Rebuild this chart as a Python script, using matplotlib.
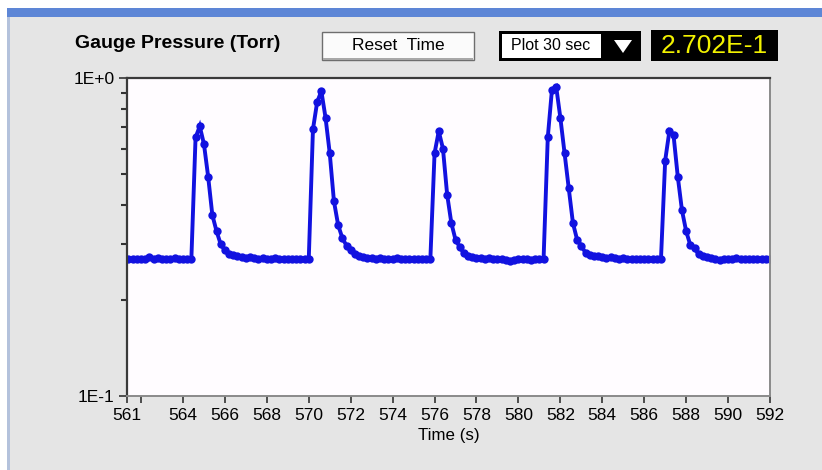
import numpy as np
import matplotlib.pyplot as plt
from matplotlib.patches import Rectangle, Polygon

plt.rcParams['font.family'] = ['Liberation Sans', 'DejaVu Sans']

W, H = 822, 470

# gauge readout, one sample every 0.2 s
time_s = np.round(np.arange(561.2, 592.01, 0.2), 1)
pressure_torr = [
    0.270, 0.270, 0.269, 0.270, 0.270,   # 561.2 - 562.0
    0.270, 0.273, 0.270, 0.272, 0.270,   # 562.2 - 563.0
    0.270, 0.269, 0.271, 0.270, 0.269,   # 563.2 - 564.0
    0.270, 0.270, 0.650, 0.705, 0.620,   # 564.2 - 565.0
    0.490, 0.371, 0.330, 0.300, 0.287,   # 565.2 - 566.0
    0.280, 0.277, 0.275, 0.273, 0.271,   # 566.2 - 567.0
    0.273, 0.272, 0.270, 0.271, 0.270,   # 567.2 - 568.0
    0.270, 0.271, 0.270, 0.269, 0.270,   # 568.2 - 569.0
    0.270, 0.269, 0.270, 0.270, 0.270,   # 569.2 - 570.0
    0.690, 0.840, 0.910, 0.750, 0.580,   # 570.2 - 571.0
    0.410, 0.345, 0.314, 0.297, 0.287,   # 571.2 - 572.0
    0.279, 0.276, 0.274, 0.272, 0.271,   # 572.2 - 573.0
    0.270, 0.272, 0.270, 0.269, 0.270,   # 573.2 - 574.0
    0.271, 0.269, 0.270, 0.270, 0.270,   # 574.2 - 575.0
    0.269, 0.270, 0.270, 0.270, 0.580,   # 575.2 - 576.0
    0.680, 0.600, 0.430, 0.350, 0.310,   # 576.2 - 577.0
    0.294, 0.281, 0.276, 0.274, 0.272,   # 577.2 - 578.0
    0.271, 0.270, 0.272, 0.270, 0.269,   # 578.2 - 579.0
    0.270, 0.268, 0.265, 0.268, 0.270,   # 579.2 - 580.0
    0.269, 0.270, 0.268, 0.270, 0.270,   # 580.2 - 581.0
    0.270, 0.650, 0.920, 0.940, 0.750,   # 581.2 - 582.0
    0.580, 0.450, 0.350, 0.310, 0.297,   # 582.2 - 583.0
    0.282, 0.278, 0.276, 0.275, 0.274,   # 583.2 - 584.0
    0.272, 0.273, 0.271, 0.270, 0.272,   # 584.2 - 585.0
    0.270, 0.269, 0.270, 0.270, 0.269,   # 585.2 - 586.0
    0.270, 0.270, 0.269, 0.270, 0.550,   # 586.2 - 587.0
    0.680, 0.660, 0.490, 0.384, 0.330,   # 587.2 - 588.0
    0.298, 0.291, 0.279, 0.276, 0.274,   # 588.2 - 589.0
    0.271, 0.270, 0.268, 0.270, 0.270,   # 589.2 - 590.0
    0.269, 0.271, 0.270, 0.269, 0.270,   # 590.2 - 591.0
    0.270, 0.270, 0.269, 0.270, 0.270,   # 591.2 - 592.0
]

x_min, x_max = 561.33, 592
x_ticks = [561.33, 562] + list(range(564, 593, 2))
x_tick_labels = ['561', ''] + [str(t) for t in range(564, 593, 2)]
y_ticks = [0.1, 1.0]
y_tick_labels = ['1E-1', '1E+0']
y_minor_ticks = [0.2, 0.3, 0.4, 0.5, 0.6, 0.7, 0.8, 0.9]

title = 'Gauge Pressure (Torr)'
button_text = 'Reset  Time'
menu_text = 'Plot 30 sec'
readout_text = '2.702E-1'


def px_rect(fig, x0, y0, x1, y1, **kw):
    """Rectangle given in screen pixels (origin top left)"""
    r = Rectangle((x0 / W, 1 - y1 / H), (x1 - x0) / W, (y1 - y0) / H,
                  transform=fig.transFigure, zorder=-5, **kw)
    fig.add_artist(r)


def px_text(fig, x, y, s, **kw):
    fig.text(x / W, 1 - y / H, s, **kw)


fig = plt.figure(figsize=(W / 100, H / 100), dpi=100, facecolor='white')

# window panel
px_rect(fig, 7, 8, W, H, facecolor='#e5e5e5', edgecolor='none')
px_rect(fig, 7, 8, W, 17, facecolor='#5d86d6', edgecolor='none')
px_rect(fig, 7, 17, 10, H, facecolor='#b4c2dc', edgecolor='none')

# front panel controls
px_text(fig, 75, 44, title, fontsize=14, fontweight='bold', va='center', ha='left')

px_rect(fig, 322, 32, 474, 60, facecolor='#fbfbfb', edgecolor='#6e6e6e', lw=1)
px_rect(fig, 323, 58, 473, 60, facecolor='#a8a8a8', edgecolor='none')
px_text(fig, 398, 46, button_text, fontsize=12.5, va='center', ha='center')

px_rect(fig, 499, 31, 641, 61, facecolor='black', edgecolor='none')
px_rect(fig, 502, 34, 601, 58, facecolor='white', edgecolor='none')
px_text(fig, 551, 46, menu_text, fontsize=11.5, va='center', ha='center')
tri = Polygon([(614 / W, 1 - 40 / H), (632 / W, 1 - 40 / H), (623 / W, 1 - 53 / H)],
              closed=True, transform=fig.transFigure, facecolor='white', edgecolor='none')
fig.add_artist(tri)

px_rect(fig, 651, 30, 778, 61, facecolor='black', edgecolor='none')
px_text(fig, 714, 46, readout_text, fontsize=19, color='#f2f200', va='center', ha='center')

# chart
ax = fig.add_axes([127 / W, 1 - 396 / H, (770 - 127) / W, (396 - 78) / H])
ax.set_zorder(10)
ax.set_facecolor('#fffcff')
ax.plot(time_s, pressure_torr, color='#1212e0', lw=2.8, marker='o', ms=6,
        markeredgewidth=0, solid_joinstyle='miter')

ax.set_yscale('log')
ax.set_ylim(0.1, 1.0)
ax.set_xlim(x_min, x_max)
ax.set_yticks(y_ticks)
ax.set_yticklabels(y_tick_labels)
ax.set_yticks(y_minor_ticks, minor=True)
ax.set_yticklabels([], minor=True)
ax.set_xticks(x_ticks)
ax.set_xticklabels(x_tick_labels)
ax.tick_params(axis='x', which='both', length=5, width=1.2, pad=4, labelsize=12.5, color='#333333')
ax.tick_params(axis='y', which='major', length=6, width=1.2, pad=3, labelsize=12.5, color='#333333')
ax.tick_params(axis='y', which='minor', length=4, width=1.5, color='#333333')
ax.set_xlabel('Time (s)', fontsize=12.2, labelpad=3)

for side in ('left', 'top'):
    ax.spines[side].set_color('#3a3a3a')
    ax.spines[side].set_linewidth(1.6)
for side in ('right', 'bottom'):
    ax.spines[side].set_color('#8a8a8a')
    ax.spines[side].set_linewidth(1.4)

fig.savefig('out.png', dpi=100, facecolor=fig.get_facecolor())
